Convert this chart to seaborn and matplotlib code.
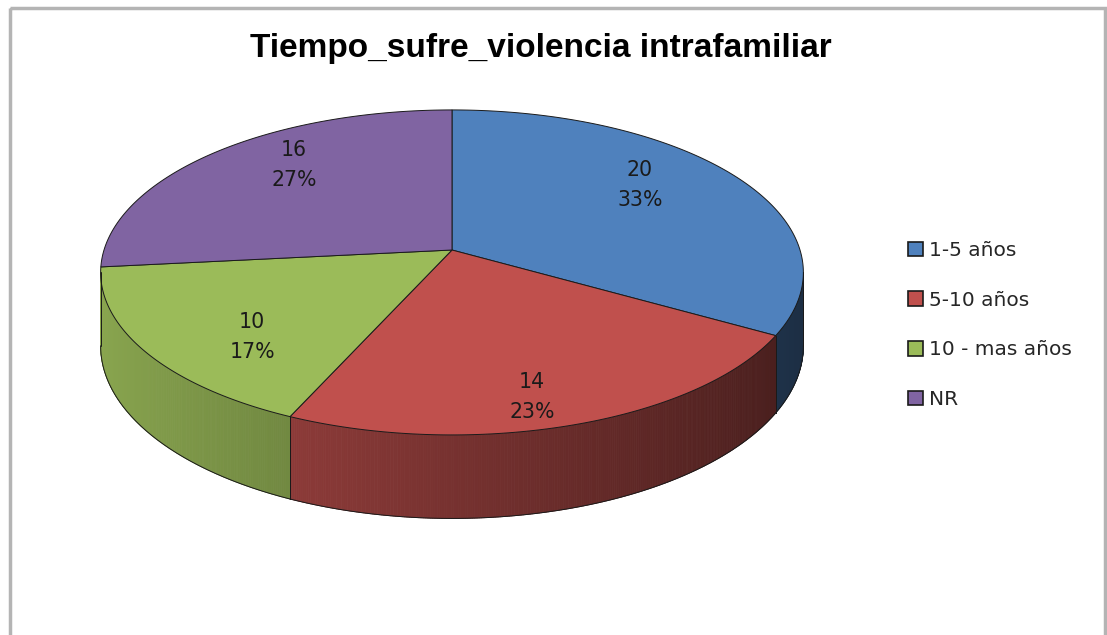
import numpy as np
import seaborn as sns
import matplotlib
matplotlib.use("Agg")
import matplotlib.pyplot as plt
from matplotlib.patches import Polygon, Patch, Rectangle
from matplotlib.colors import to_rgb

# data
categories = ['1-5 años', '5-10 años', '10 - mas años', 'NR']
counts = [20, 14, 10, 16]
colors = ['#4F81BD', '#C0504D', '#9BBB59', '#8064A2']
title = 'Tiempo_sufre_violencia intrafamiliar'

sns.set_theme(style="white")
plt.rcParams['font.family'] = ['DejaVu Sans']

# pie geometry (pixels), perspective tilt
CX, CY = 452, 250
RX, RY = 348, 159.4
K = 0.138
H = 72


def proj(u, v, drop=0.0):
    s = 1.0 / (1.0 + K * v)
    return CX + RX * u * s, CY - RY * v * s + drop * s


fig = plt.figure(figsize=(11.07, 6.35), dpi=100)
ax = fig.add_axes([0, 0, 1, 1])
ax.set_xlim(0, 1107)
ax.set_ylim(635, 0)
ax.axis('off')

# chart border
ax.add_patch(Rectangle((10, 8), 1095, 640, fill=False, edgecolor='#b4b4b4', lw=2.5))

total = sum(counts)
angles = 90 - 360 * np.cumsum([0] + counts) / total
slices = list(zip(angles[:-1], angles[1:]))

# visible part of the wall lies between the two silhouette angles
sil = np.degrees(np.arcsin(K))
vis_lo, vis_hi = -180 + sil, -sil

# sides
for (a0, a1), col in zip(slices, colors):
    lo, hi = max(a1, vis_lo), min(a0, vis_hi)
    if lo >= hi:
        lo, hi = max(a1 + 360, vis_lo), min(a0 + 360, vis_hi)
        if lo >= hi:
            continue
    th = np.radians(np.linspace(hi, lo, int((hi - lo) * 3) + 2))
    base = np.array(to_rgb(col))
    for t0, t1 in zip(th[:-1], th[1:]):
        u0, v0, u1, v1 = np.cos(t0), np.sin(t0), np.cos(t1), np.sin(t1)
        f = 0.62 - 0.27 * (u0 + u1) / 2
        c = np.clip(base * f, 0, 1)
        pts = [proj(u0, v0), proj(u1, v1), proj(u1, v1, H), proj(u0, v0, H)]
        ax.add_patch(Polygon(pts, closed=True, facecolor=c, edgecolor=c, lw=0.6))
    bottom = [proj(np.cos(t), np.sin(t), H) for t in th]
    ax.plot([p[0] for p in bottom], [p[1] for p in bottom], color='#1a1a1a', lw=0.7)
    for t in (th[0], th[-1]):
        p0 = proj(np.cos(t), np.sin(t))
        p1 = proj(np.cos(t), np.sin(t), H)
        ax.plot([p0[0], p1[0]], [p0[1], p1[1]], color='#1a1a1a', lw=0.7)

# top surface + data labels
for (a0, a1), col, n in zip(slices, colors, counts):
    th = np.radians(np.linspace(a0, a1, 200))
    pts = [proj(0, 0)] + [proj(np.cos(t), np.sin(t)) for t in th]
    ax.add_patch(Polygon(pts, closed=True, facecolor=col, edgecolor='#1a1a1a', lw=0.7))
    mid = np.radians((a0 + a1) / 2)
    lx, ly = proj(0.66 * np.cos(mid), 0.86 * np.sin(mid))
    pct = round(100 * n / total)
    ax.text(lx, ly, f'{n}\n{pct}%', ha='center', va='center', fontsize=14.8,
            color='#1a1a1a', linespacing=1.62)

ax.text(541, 48, title, ha='center', va='center', fontsize=24, fontweight='bold',
        family='Liberation Sans', color='black')

handles = [Patch(facecolor=c, edgecolor='#1a1a1a', lw=1.2) for c in colors]
ax.legend(handles, categories, loc='center left', bbox_to_anchor=(908 / 1107, 1 - 325 / 635),
          frameon=False, fontsize=14.5, handlelength=0.75, handleheight=0.75,
          handletextpad=0.3, labelspacing=1.52, borderpad=0, borderaxespad=0)

fig.savefig('out.png', dpi=100)
